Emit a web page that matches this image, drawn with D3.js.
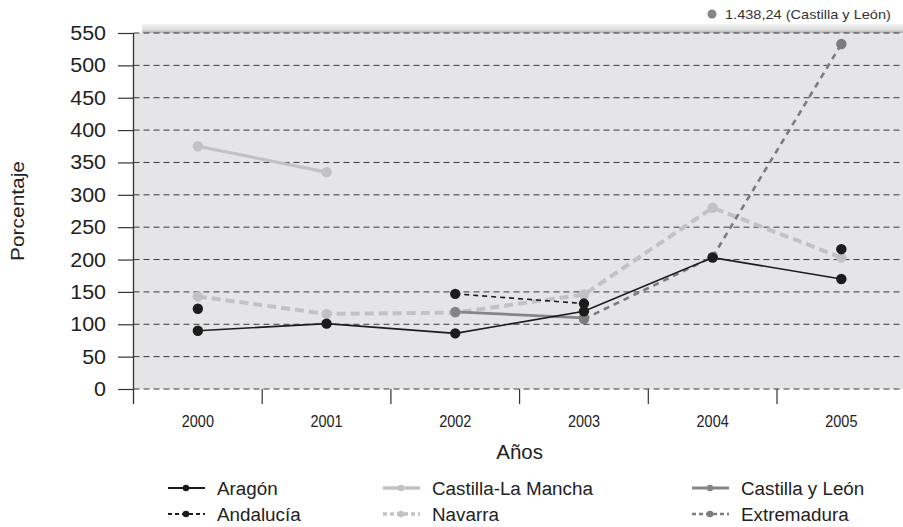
<!DOCTYPE html>
<html><head><meta charset="utf-8">
<script src="https://cdn.jsdelivr.net/npm/d3@7"></script>
<style>
body{margin:0;background:#fff}
svg{display:block}
text{font-family:"Liberation Sans",Arial,Helvetica,sans-serif;fill:#222}
</style>
</head><body>
<svg id="c" width="903" height="527"></svg>
<script>
// ---------- data ----------
const years = ["2000","2001","2002","2003","2004","2005"];
const yTicks = [0,50,100,150,200,250,300,350,400,450,500,550];
const aragon           = [90, 101, 86, 120, 203, 170];
const andalucia        = [124, null, 147, 132, null, 216];
const castillaLaMancha = [375, 335, null, null, null, null];
const castillaYLeon    = [null, null, 119, 110, null, 1438.24];
const navarra          = [143, 116, 118, 146, 280, 203];
const extremadura      = [null, null, null, 108, 204, 533];
const seriesNames = ["Aragón","Castilla-La Mancha","Castilla y León","Andalucía","Navarra","Extremadura"];
const xTitle = "Años";
const yTitle = "Porcentaje";

// ---------- styles ----------
const styles = {
  "Aragón":            {values: aragon,           color:"#1c1c1c", width:1.6, dash:null,  lw:2,   ldash:null},
  "Andalucía":         {values: andalucia,        color:"#1c1c1c", width:1.6, dash:"5,4", lw:2,   ldash:"4,3"},
  "Castilla-La Mancha":{values: castillaLaMancha, color:"#c2c2c4", width:3.2, dash:null,  lw:3.5, ldash:null},
  "Castilla y León":   {values: castillaYLeon,    color:"#858587", width:2.8, dash:null,  lw:3,   ldash:null},
  "Navarra":           {values: navarra,          color:"#c2c2c4", width:4,   dash:"9,5", lw:3.5, ldash:"4,3"},
  "Extremadura":       {values: extremadura,      color:"#7c7c7e", width:2.6, dash:"6,5", lw:2.6, ldash:"4,3"}
};
const drawOrder = ["Castilla-La Mancha","Navarra","Castilla y León","Extremadura","Aragón","Andalucía"];

const svg = d3.select("#c");
const pTop = 33, pBottom = 389, pLeft = 133.5, pRight = 905.7;
const x = d3.scaleBand().domain(years).range([pLeft, pRight]);
const y = d3.scaleLinear().domain([0, 550]).range([pBottom, pTop]);
const cx = d => x(d) + x.bandwidth()/2;
const esFmt = d3.formatLocale({decimal:",", thousands:".", grouping:[3], currency:["","€"]}).format(",.2f");

function txt(px, py, str, size, sx, anchor, rot, fill){
  const g = svg.append("g").attr("transform", `translate(${px},${py}) rotate(${rot||0}) scale(${sx},1)`);
  g.append("text").attr("text-anchor", anchor).attr("font-size", size)
    .style("fill", fill || "#222").text(str);
  return g;
}

// shadow at top
const defs = svg.append("defs");
const grad = defs.append("linearGradient").attr("id","sh").attr("x1",0).attr("y1",0).attr("x2",0).attr("y2",1);
grad.append("stop").attr("offset","0%").attr("stop-color","#f4f4f4");
grad.append("stop").attr("offset","60%").attr("stop-color","#dedede");
grad.append("stop").attr("offset","100%").attr("stop-color","#b0b0b0");
svg.append("rect").attr("x", pLeft + 8.5).attr("y", pTop - 9).attr("width", 903).attr("height", 9).attr("fill","url(#sh)");

// plot background
svg.append("rect").attr("x", pLeft).attr("y", pTop).attr("width", pRight - pLeft).attr("height", pBottom - pTop).attr("fill","#e5e5e7");

// gridlines
svg.append("g").selectAll("line").data(yTicks).join("line")
  .attr("x1", pLeft).attr("x2", 903).attr("y1", d => y(d)).attr("y2", d => y(d))
  .attr("stroke","#3a3a3a").attr("stroke-width",1).attr("stroke-dasharray","6,4");

// y axis (line + ticks)
const yAxis = svg.append("g").attr("transform",`translate(${pLeft},0)`)
  .call(d3.axisLeft(y).tickValues(yTicks).tickSize(15.5).tickFormat(""));
yAxis.select(".domain").remove();
yAxis.selectAll(".tick line").attr("stroke","#333").attr("stroke-width",1.2);
svg.append("line").attr("x1",pLeft).attr("x2",pLeft).attr("y1",pTop).attr("y2",pBottom+15)
  .attr("stroke","#333").attr("stroke-width",1.3);
yTicks.forEach(v => txt(106, y(v) + 7, String(v), 19.5, 1.1, "end"));

// x axis ticks at band boundaries
svg.append("g").selectAll("line").data(years.slice(1)).join("line")
  .attr("x1", d => x(d)).attr("x2", d => x(d)).attr("y1", pBottom).attr("y2", pBottom + 15)
  .attr("stroke","#333").attr("stroke-width",1.2);
years.forEach(yr => txt(cx(yr), 427, yr, 17, 0.85, "middle"));

// titles
txt((pLeft + pRight) / 2, 459, xTitle, 19.5, 1.05, "middle");
txt(24, 211, yTitle, 19, 1.1, "middle", -90);

// series lines
const line = d3.line().defined(d => d.v != null && d.v <= 550).x(d => cx(d.yr)).y(d => y(d.v));
drawOrder.forEach(name => {
  const s = styles[name];
  const pts = years.map((yr,i) => ({yr, v: s.values[i]}));
  svg.append("path").datum(pts).attr("d", line).attr("fill","none")
    .attr("stroke", s.color).attr("stroke-width", s.width)
    .attr("stroke-dasharray", s.dash);
});
drawOrder.forEach(name => {
  const s = styles[name];
  const pts = years.map((yr,i) => ({yr, v: s.values[i]})).filter(d => d.v != null && d.v <= 550);
  svg.append("g").selectAll("circle").data(pts).join("circle")
    .attr("cx", d => cx(d.yr)).attr("cy", d => y(d.v)).attr("r", 5.2).attr("fill", s.color);
});

// off-scale annotation
const off = [];
seriesNames.forEach(name => styles[name].values.forEach(v => { if (v != null && v > 550) off.push({name, v}); }));
off.forEach((o,i) => {
  svg.append("circle").attr("cx", 712).attr("cy", 14 + i*16).attr("r", 4.5).attr("fill", styles[o.name].color);
  txt(725, 19 + i*16, `${esFmt(o.v)} (${o.name})`, 13, 1.12, "start", 0, "#333");
});

// legend
const legCols = [168, 383, 692], legRows = [488, 514];
seriesNames.forEach((name,i) => {
  const s = styles[name];
  const lx = legCols[i % 3], ly = legRows[Math.floor(i / 3)];
  svg.append("line").attr("x1", lx).attr("x2", lx + 37).attr("y1", ly).attr("y2", ly)
    .attr("stroke", s.color).attr("stroke-width", s.lw).attr("stroke-dasharray", s.ldash);
  svg.append("circle").attr("cx", lx + 18).attr("cy", ly).attr("r", 3.3).attr("fill", s.color);
  txt(lx + 49, ly + 6.8, name, 19, 0.99, "start");
});
</script>
</body></html>
